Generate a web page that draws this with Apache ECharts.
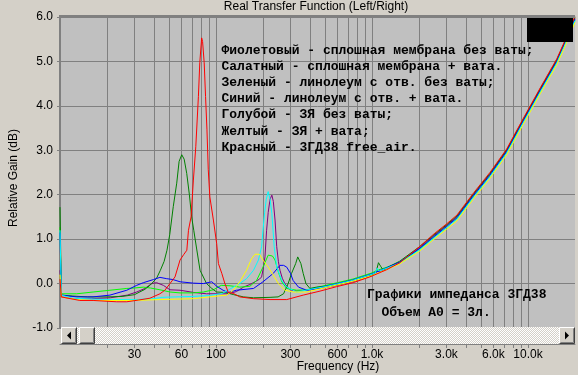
<!DOCTYPE html>
<html><head><meta charset="utf-8">
<script src="https://cdn.jsdelivr.net/npm/echarts@6/dist/echarts.min.js"></script>
<style>html,body{margin:0;padding:0;background:#d4d0c8}#c{width:578px;height:375px}</style>
</head><body><div id="c"></div>
<script>
// ---- Data (frequency in Hz, gain in dB) ----
const violetF = [10,10.2,12,16,21,27,31,35,38.7,41.6,46,50.7,58.8,72,87,106,120,135,150,165,178,190,196,201,206,211,216,222,228,233,239,245,251,257,266,276,290,305,330,360,400,500,600,750,1000,1080,1130,1250,1500,2000,2500,3000,3500,4500,5700,7300,9300,12000,15300,17000,20000];
const violetDb = [0.3,-0.3,-0.34,-0.34,-0.32,-0.26,-0.19,-0.11,0.0,0.02,-0.04,-0.14,-0.15,-0.2,-0.23,-0.23,-0.23,-0.18,-0.08,-0.02,0.04,0.1,0.15,0.35,0.6,1.2,1.6,1.9,1.99,1.85,1.43,0.83,0.5,0.3,0.12,0.0,-0.1,-0.15,-0.17,-0.16,-0.14,-0.09,-0.04,0.04,0.18,0.28,0.27,0.33,0.46,0.79,1.08,1.3,1.5,2.01,2.46,2.99,3.67,4.37,5.02,5.38,5.97];

const limeF = [10,10.2,12.8,16.3,20.9,26.8,30,34.2,38,43.7,50.7,58.8,71.6,83.2,96.2,108,123,142,165,182,200,216,222,230,239,251,264,284,329,382,464,600,750,1000,1080,1250,1500,2000,2500,3000,3500,4500,5700,7300,9300,12000,15300,17000,20000];
const limeDb = [1.27,-0.23,-0.23,-0.19,-0.15,-0.11,-0.1,-0.08,-0.1,-0.14,-0.19,-0.21,-0.21,-0.19,-0.14,-0.04,-0.05,-0.08,-0.06,0.07,0.37,0.64,0.68,0.62,0.53,0.26,0.04,-0.11,-0.15,-0.14,-0.07,0.02,0.1,0.24,0.3,0.37,0.48,0.76,1.04,1.26,1.46,1.97,2.42,2.95,3.63,4.33,4.98,5.33,5.92];

const greenF = [10,10.2,12,15,20,25,30,35,38,41.6,44,46.5,48.5,50.5,53.2,56,58,60.3,62.5,64.9,67.5,69.8,72,75,79,87,94,101,115,130,150,174,222,250,271,280,290,305,324,334,340,350,362,377,400,440,500,600,750,1000,1060,1100,1140,1180,1250,1500,2000,2500,3000,3500,4500,5700,7300,9300,12000,15300,17000,20000];
const greenDb = [1.72,-0.26,-0.28,-0.3,-0.3,-0.29,-0.25,-0.13,-0.03,0.12,0.3,0.5,0.75,1.1,1.73,2.26,2.75,2.9,2.8,2.48,2.0,1.5,1.2,0.8,0.3,0.0,-0.11,-0.19,-0.2,-0.25,-0.3,-0.32,-0.31,-0.3,-0.23,-0.12,0.0,0.23,0.45,0.6,0.6,0.45,0.23,0.0,-0.11,-0.08,-0.06,-0.02,0.07,0.2,0.25,0.47,0.38,0.3,0.36,0.5,0.82,1.1,1.32,1.52,2.03,2.48,3.01,3.69,4.39,5.04,5.4,6.0];

const blueF = [10,10.2,12.8,16.3,20.9,26.8,31,34.2,39.7,43.7,48.3,53,58.8,71.6,83,94,101,111,120,135,174,200,233,257,271,284,300,312,338,382,464,600,750,1000,1250,1500,2000,2500,3000,3500,4500,5700,7300,9300,12000,15300,17000,20000];
const blueDb = [1.15,-0.26,-0.3,-0.3,-0.26,-0.15,-0.04,0.02,0.09,0.14,0.11,0.09,0.04,0.01,0.0,0.04,-0.06,-0.15,-0.2,-0.15,-0.11,0.04,0.23,0.41,0.41,0.37,0.23,0.07,-0.08,-0.15,-0.09,0.0,0.08,0.22,0.36,0.48,0.78,1.06,1.28,1.48,1.99,2.44,2.97,3.65,4.35,5.0,5.36,5.95];

const cyanF = [10,10.2,12,20,30,40,45,55,70,90,110,129,142,157,174,187,196,200,205,210,216,222,228,236,245,264,284,329,400,500,600,750,1000,1050,1080,1110,1250,1500,2000,2500,3000,3500,4500,5700,7300,9300,12000,15300,17000,20000];
const cyanDb = [1.2,-0.26,-0.33,-0.36,-0.36,-0.34,-0.31,-0.3,-0.29,-0.27,-0.22,-0.08,0.0,0.11,0.3,0.53,0.83,1.2,1.6,1.9,2.07,1.9,1.58,0.83,0.37,0.07,-0.08,-0.19,-0.13,-0.07,-0.01,0.07,0.21,0.24,0.35,0.28,0.35,0.46,0.75,1.03,1.26,1.45,1.96,2.41,2.94,3.62,4.32,4.97,5.33,5.92];

const yellowF = [10,10.2,12.8,16.3,30,43.7,56,71.6,91,117,129,142,157,169,178,190,200,216,233,251,276,312,382,464,600,750,1000,1250,1500,2000,2500,3000,3500,4500,5700,7300,9300,12000,15300,17000,20000];
const yellowDb = [0.2,-0.3,-0.36,-0.38,-0.38,-0.36,-0.35,-0.34,-0.3,-0.26,-0.15,0.04,0.3,0.56,0.66,0.66,0.53,0.37,0.19,0.0,-0.15,-0.19,-0.19,-0.12,-0.03,0.05,0.18,0.32,0.44,0.72,1.0,1.22,1.41,1.92,2.37,2.9,3.58,4.28,4.93,5.29,5.88];

const redF = [10,10.2,10.5,13.4,16.3,23.1,26.8,32,37.7,43.7,47,50.7,54.6,58.8,62,65,66.6,69.2,71.6,74.2,77.1,78.7,80.9,82,84,85.7,87.5,89.2,91.3,96.2,101,103.6,108.9,114,120,129,142,174,222,284,362,464,592,757,968,1237,1508,2000,2500,3000,3500,4500,5700,7300,9300,12000,15300,17000,20000];
const redDb = [0.1,-0.3,-0.3,-0.38,-0.38,-0.41,-0.41,-0.37,-0.33,-0.23,-0.15,0.0,0.15,0.53,0.65,0.75,1.2,1.5,2.33,3.08,4.21,4.97,5.53,5.45,4.97,4.21,3.46,2.56,1.95,1.43,0.9,0.45,0.23,0.0,-0.2,-0.22,-0.3,-0.34,-0.36,-0.36,-0.26,-0.17,-0.07,0.02,0.15,0.31,0.47,0.82,1.12,1.34,1.54,2.05,2.5,3.03,3.71,4.41,5.06,5.42,6.02];

// axis ticks / labels
const xTickValues = [20,30,40,50,60,70,80,90,100,200,300,400,500,600,700,800,900,1000,2000,3000,4000,5000,6000,7000,8000,9000,10000];
const xLabelValues = [30,60,100,300,600,1000,3000,6000,10000];

const notes = [
  'Фиолетовый - сплошная мембрана без ваты;',
  'Салатный - сплошная мембрана + вата.',
  'Зеленый - линолеум с отв. без ваты;',
  'Синий - линолеум с отв. + вата.',
  'Голубой - ЗЯ без ваты;',
  'Желтый - ЗЯ + вата;',
  'Красный - 3ГД38 free_air.'
];
const notes2 = ['Графики импеданса 3ГД38', 'Объем А0 = 3л.'];

const seriesDefs = [
  {name:'Фиолетовый', f:violetF, v:violetDb, color:'#800080'},
  {name:'Салатный', f:limeF, v:limeDb, color:'#00ff00'},
  {name:'Зеленый', f:greenF, v:greenDb, color:'#008000'},
  {name:'Синий', f:blueF, v:blueDb, color:'#0000ff'},
  {name:'Голубой', f:cyanF, v:cyanDb, color:'#00ffff'},
  {name:'Желтый', f:yellowF, v:yellowDb, color:'#ffff00'},
  {name:'Красный', f:redF, v:redDb, color:'#ff0000'}
];

// checker pattern for scrollbar track
const pc = document.createElement('canvas');
pc.width = 2; pc.height = 2;
const pctx = pc.getContext('2d');
pctx.fillStyle = '#d4d0c8'; pctx.fillRect(0,0,2,2);
pctx.fillStyle = '#ffffff'; pctx.fillRect(0,0,1,1); pctx.fillRect(1,1,1,1);

function button(x, y, w, h) {
  return [
    {type:'rect', shape:{x:x, y:y, width:w, height:h}, style:{fill:'#d4d0c8'}, z:100},
    {type:'polyline', shape:{points:[[x+0.5,y+h-0.5],[x+0.5,y+0.5],[x+w-0.5,y+0.5]]}, style:{stroke:'#ffffff', lineWidth:1, fill:null}, z:101},
    {type:'polyline', shape:{points:[[x+0.5,y+h-0.5],[x+w-0.5,y+h-0.5],[x+w-0.5,y+0.5]]}, style:{stroke:'#404040', lineWidth:1, fill:null}, z:101},
    {type:'polyline', shape:{points:[[x+1.5,y+h-1.5],[x+w-1.5,y+h-1.5],[x+w-1.5,y+1.5]]}, style:{stroke:'#808080', lineWidth:1, fill:null}, z:101}
  ];
}

const graphics = [];
// top border
graphics.push({type:'rect', shape:{x:59, y:15, width:516, height:3}, style:{fill:'#808080'}, z:50});
// black box
graphics.push({type:'rect', shape:{x:527, y:18, width:46, height:24}, style:{fill:'#000000'}, z:60});
// scrollbar
graphics.push({type:'rect', shape:{x:61, y:327, width:514, height:17}, style:{fill:{image:pc, repeat:'repeat'}}, z:99});
graphics.push(...button(61, 327, 16, 17));
graphics.push(...button(79, 327, 16, 17));
graphics.push(...button(559, 327, 16, 17));
graphics.push({type:'polygon', shape:{points:[[67,335.5],[71,331.5],[71,339.5]]}, style:{fill:'#000'}, z:102});
graphics.push({type:'polygon', shape:{points:[[569,335.5],[565,331.5],[565,339.5]]}, style:{fill:'#000'}, z:102});
// title & axis names
graphics.push({type:'text', x:316, y:7, style:{text:'Real Transfer Function (Left/Right)', font:'12px "Liberation Sans", Arial, sans-serif', fill:'#000', textAlign:'center', textVerticalAlign:'middle'}, z:110});
graphics.push({type:'text', x:338, y:367, style:{text:'Frequency (Hz)', font:'12px "Liberation Sans", Arial, sans-serif', fill:'#000', textAlign:'center', textVerticalAlign:'middle'}, z:110});
graphics.push({type:'text', x:14, y:178, rotation:Math.PI/2, style:{text:'Relative Gain (dB)', font:'12px "Liberation Sans", Arial, sans-serif', fill:'#000', textAlign:'center', textVerticalAlign:'middle'}, z:110});
// annotations
const noteY = [50.7, 67, 83, 99, 115, 131.5, 147.7];
notes.forEach((t, i) => graphics.push({type:'text', x:221.5, y:noteY[i], style:{text:t, font:'bold 13px "Liberation Mono", "Courier New", monospace', fill:'#000', textAlign:'left', textVerticalAlign:'middle'}, z:110}));
graphics.push({type:'text', x:367, y:295, style:{text:notes2[0], font:'bold 13px "Liberation Mono", "Courier New", monospace', fill:'#000', textAlign:'left', textVerticalAlign:'middle'}, z:110});
graphics.push({type:'text', x:381.5, y:312.5, style:{text:notes2[1], font:'bold 13px "Liberation Mono", "Courier New", monospace', fill:'#000', textAlign:'left', textVerticalAlign:'middle'}, z:110});

const chart = echarts.init(document.getElementById('c'), null, {renderer:'canvas'});
chart.setOption({
  backgroundColor:'#d4d0c8',
  animation:false,
  grid:{left:60, top:17, width:515, height:311, show:true, backgroundColor:'#c0c0c0', borderWidth:0},
  xAxis:{
    type:'log', logBase:10, min:10, max:20000, offset:16,
    axisLine:{show:true, onZero:false, lineStyle:{color:'#808080', width:1}},
    axisTick:{show:true, length:4, customValues:xTickValues, lineStyle:{color:'#808080'}},
    axisLabel:{customValues:xLabelValues, margin:5, color:'#000', fontSize:12, fontFamily:'"Liberation Sans", Arial, sans-serif',
      formatter: v => v >= 1000 ? (v/1000).toFixed(1) + 'k' : String(Math.round(v))},
    splitLine:{show:true, lineStyle:{color:'#808080', width:1}},
    minorTick:{show:false}, minorSplitLine:{show:false}
  },
  yAxis:{
    type:'value', min:-1, max:6, interval:1,
    axisLine:{show:true, lineStyle:{color:'#808080', width:2}},
    axisTick:{show:true, length:3, lineStyle:{color:'#808080'}},
    axisLabel:{margin:7, color:'#000', fontSize:12, fontFamily:'"Liberation Sans", Arial, sans-serif', formatter: v => v.toFixed(1)},
    splitLine:{show:true, lineStyle:{color:'#808080', width:1}}
  },
  series: seriesDefs.map(s => ({
    type:'line', name:s.name, showSymbol:false, symbol:'none',
    data: s.f.map((f, i) => [f, s.v[i]]),
    lineStyle:{color:s.color, width:1}, itemStyle:{color:s.color}, clip:true, silent:true
  })),
  graphic: graphics
});
</script></body></html>
